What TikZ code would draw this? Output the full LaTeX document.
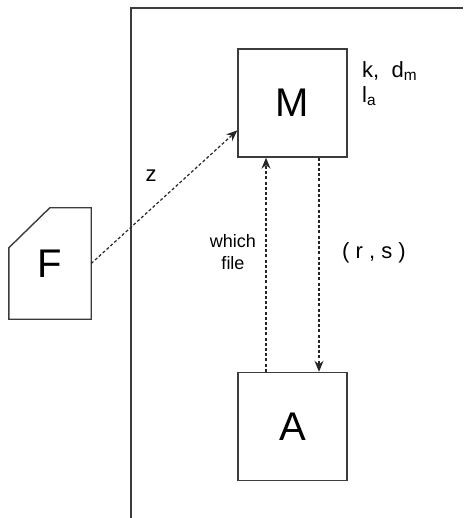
\documentclass[tikz,border=0pt]{standalone}
\usepackage{fontspec}
\setmainfont{Liberation Sans}
\usetikzlibrary{arrows.meta,positioning,calc}
\definecolor{framegrey}{HTML}{3C3C3C}

\begin{document}
\begin{tikzpicture}[x=1pt,y=-1pt,
  box/.style={draw=framegrey,line width=1.4pt,minimum width=109pt,minimum height=108pt,
    inner sep=0pt,font=\fontsize{40}{40}\selectfont},
  link/.style={draw=black!85,line width=1.2pt,dash pattern=on 3pt off 2.2pt,
    -{Stealth[length=11pt,width=9pt]}},
  lbl/.style={inner sep=0pt,font=\fontsize{22}{25}\selectfont}]
\useasboundingbox (0,0) rectangle (463,518);
% outer frame, only left and top edges show
\draw[framegrey,line width=1.6pt] (131,518) -- (131,8) -- (463,8);
\node[box] (mgr) at (292.5,103) {M};
\node[box] (app) at (292.5,426.5) {A};
% file with cut corner
\node[minimum width=82pt,minimum height=111pt,inner sep=0pt,
  font=\fontsize{40}{40}\selectfont] (file) at (50,263.5) {F};
\draw[framegrey,line width=1.4pt] (file.south west) -- ($(file.north west)+(0,40)$)
  -- ($(file.north west)+(41,0)$) -- (file.north east) -- (file.south east) -- cycle;
% connectors
\draw[link] (file.east) -- ($(mgr.south west)!0.25!(mgr.north west)$);
\draw[link] ($(app.north west)!0.26!(app.north east)$) -- ($(mgr.south west)!0.26!(mgr.south east)$);
\draw[link] ($(mgr.south west)!0.74!(mgr.south east)$) -- ($(app.north west)!0.74!(app.north east)$);
% labels
\node[lbl] (zlbl) at (151,176) {z};
\node[lbl,font=\fontsize{18}{22}\selectfont,align=center] (which) at (233,252) {which\\file};
\node[lbl] (rs) at (374,253) {(~r~,~s~)};
\node[lbl,anchor=west,align=left] (params) at (362,84) {k,\ \ d\textsubscript{m}\\l\textsubscript{a}};
\end{tikzpicture}
\end{document}
